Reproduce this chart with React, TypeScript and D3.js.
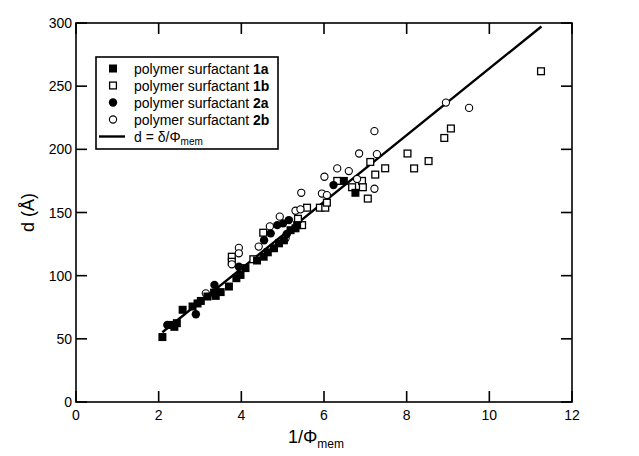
import React from "react";
import * as d3 from "d3";

const W = 639, H = 456;
const margin = { left: 76, right: 67, top: 23, bottom: 54 };

const xTicks = [0, 2, 4, 6, 8, 10, 12];
const yTicks = [0, 50, 100, 150, 200, 250, 300];

// [x, y]
const s1a: [number, number][] = [
  [2.09, 51.4], [2.33, 61], [2.44, 62.4], [2.38, 59.5], [2.58, 73], [2.82, 75.6], [2.94, 78], [3.02, 80],
  [3.18, 83.5], [3.38, 84], [3.34, 86.6], [3.5, 87], [3.7, 91.4], [3.88, 98], [3.98, 100.6], [4.1, 106],
  [4.38, 112], [4.54, 115], [4.64, 118.5], [4.79, 121.7], [4.91, 125.6], [5.03, 128], [5.19, 136],
  [5.31, 137.5], [5.35, 140], [6.48, 175], [6.76, 165.6],
];
const s1b: [number, number][] = [
  [3.77, 115], [3.77, 111], [4.29, 113], [4.53, 134], [5.47, 140], [5.37, 145], [5.59, 153.8],
  [5.9, 153.8], [6.03, 153.8], [6.07, 157.8], [6.32, 175], [6.68, 170], [6.92, 175], [6.94, 170],
  [7.06, 161], [7.12, 190], [7.24, 180], [7.48, 185], [8.02, 196.7], [8.18, 184.9], [8.53, 190.7],
  [8.91, 209], [9.07, 216.5], [11.25, 261.8],
];
const s2a: [number, number][] = [
  [2.21, 61], [2.9, 69.5], [3.35, 92.7], [3.94, 107], [4.55, 128], [4.71, 133.5], [4.87, 140],
  [5.01, 141.4], [5.15, 144], [5.1, 133], [6.23, 171.7],
];
const s2b: [number, number][] = [
  [3.14, 86], [3.94, 122], [3.94, 117.7], [3.77, 109], [4.42, 123], [4.69, 139], [4.93, 146.7],
  [5.07, 129.6], [5.31, 151.4], [5.43, 152.5], [5.45, 165.6], [5.95, 165], [6.07, 163.8], [6.01, 178.3],
  [6.32, 184.9], [6.6, 182.8], [6.8, 176.5], [6.85, 196.7], [7.22, 214.4], [7.28, 196.2], [7.22, 168.8],
  [8.95, 237], [9.51, 232.8],
];
const delta = 26.4;
const lineX = [2.09, 11.26];

const font = "'Liberation Sans', Arial, Helvetica, sans-serif";

export default function App() {
  const x = d3.scaleLinear().domain([0, 12]).range([margin.left, W - margin.right]);
  const y = d3.scaleLinear().domain([0, 300]).range([H - margin.bottom, margin.top]);
  const x0 = x.range()[0], x1 = x.range()[1], y0 = y.range()[0], y1 = y.range()[1];
  const tl = 11;
  const line = d3.line<number>().x((v) => x(v)).y((v) => y(delta * v));
  const sq = 8, r = 4;

  const legendItems = [
    { kind: "fsq", label: "1a" },
    { kind: "osq", label: "1b" },
    { kind: "fci", label: "2a" },
    { kind: "oci", label: "2b" },
  ];
  const lx = 96, ly = 57, lw = 182, lh = 92;
  const rowY = (i: number) => 68.5 + i * 17;
  const mk = (kind: string, cx: number, cy: number, key: any) => {
    if (kind === "fsq") return <rect key={key} x={cx - sq / 2} y={cy - sq / 2} width={sq} height={sq} fill="#000" />;
    if (kind === "osq") return <rect key={key} x={cx - sq / 2 + 0.6} y={cy - sq / 2 + 0.6} width={sq - 1.2} height={sq - 1.2} fill="#fff" stroke="#000" strokeWidth={1.3} />;
    if (kind === "fci") return <circle key={key} cx={cx} cy={cy} r={r + 0.2} fill="#000" />;
    return <circle key={key} cx={cx} cy={cy} r={r - 0.4} fill="#fff" stroke="#000" strokeWidth={1.1} />;
  };

  return (
    <svg width={W} height={H} style={{ display: "block", position: "absolute", left: 0, top: 0 }} fontFamily={font}>
      <rect width={W} height={H} fill="#fff" />
      {/* frame */}
      <rect x={x0} y={y1} width={x1 - x0} height={y0 - y1} fill="none" stroke="#000" strokeWidth={1.6} />
      {xTicks.map((t) => (
        <g key={"xt" + t}>
          <line x1={x(t)} x2={x(t)} y1={y0} y2={y0 - tl} stroke="#000" strokeWidth={1.6} />
          <line x1={x(t)} x2={x(t)} y1={y1} y2={y1 + tl} stroke="#000" strokeWidth={1.6} />
          <text x={x(t)} y={y0 + 18} textAnchor="middle" fontSize={14}>{t}</text>
        </g>
      ))}
      {yTicks.map((t) => (
        <g key={"yt" + t}>
          <line x1={x0} x2={x0 + tl} y1={y(t)} y2={y(t)} stroke="#000" strokeWidth={1.6} />
          <line x1={x1} x2={x1 - tl} y1={y(t)} y2={y(t)} stroke="#000" strokeWidth={1.6} />
          <text x={x0 - 4} y={y(t) + 5} textAnchor="end" fontSize={14}>{t}</text>
        </g>
      ))}
      {/* axis titles */}
      <text transform={`translate(34,${y(150)}) rotate(-90)`} textAnchor="middle" fontSize={18}>d (Å)</text>
      <text x={(x0 + x1) / 2 - 8} y={443} textAnchor="middle" fontSize={18}>
        1/Φ<tspan fontSize={12} dy={5}>mem</tspan>
      </text>
      {/* fit line */}
      <path d={line(lineX) || ""} fill="none" stroke="#000" strokeWidth={2.4} />
      {/* data */}
      {s1b.map((p, i) => mk("osq", x(p[0]), y(p[1]), "b" + i))}
      {s2b.map((p, i) => mk("oci", x(p[0]), y(p[1]), "d" + i))}
      {s1a.map((p, i) => mk("fsq", x(p[0]), y(p[1]), "a" + i))}
      {s2a.map((p, i) => mk("fci", x(p[0]), y(p[1]), "c" + i))}
      {/* legend */}
      <rect x={lx} y={ly} width={lw} height={lh} fill="#fff" stroke="#000" strokeWidth={1.6} />
      {legendItems.map((it, i) => (
        <g key={"lg" + i}>
          {mk(it.kind, 113, rowY(i), "lm" + i)}
          <text x={134} y={rowY(i) + 5} fontSize={14}>
            polymer surfactant <tspan fontWeight="bold">{it.label}</tspan>
          </text>
        </g>
      ))}
      <line x1={99} x2={125} y1={rowY(4)} y2={rowY(4)} stroke="#000" strokeWidth={2.4} />
      <text x={134} y={rowY(4) + 5} fontSize={14}>
        d = δ/Φ<tspan fontSize={10} dy={3}>mem</tspan>
      </text>
    </svg>
  );
}
